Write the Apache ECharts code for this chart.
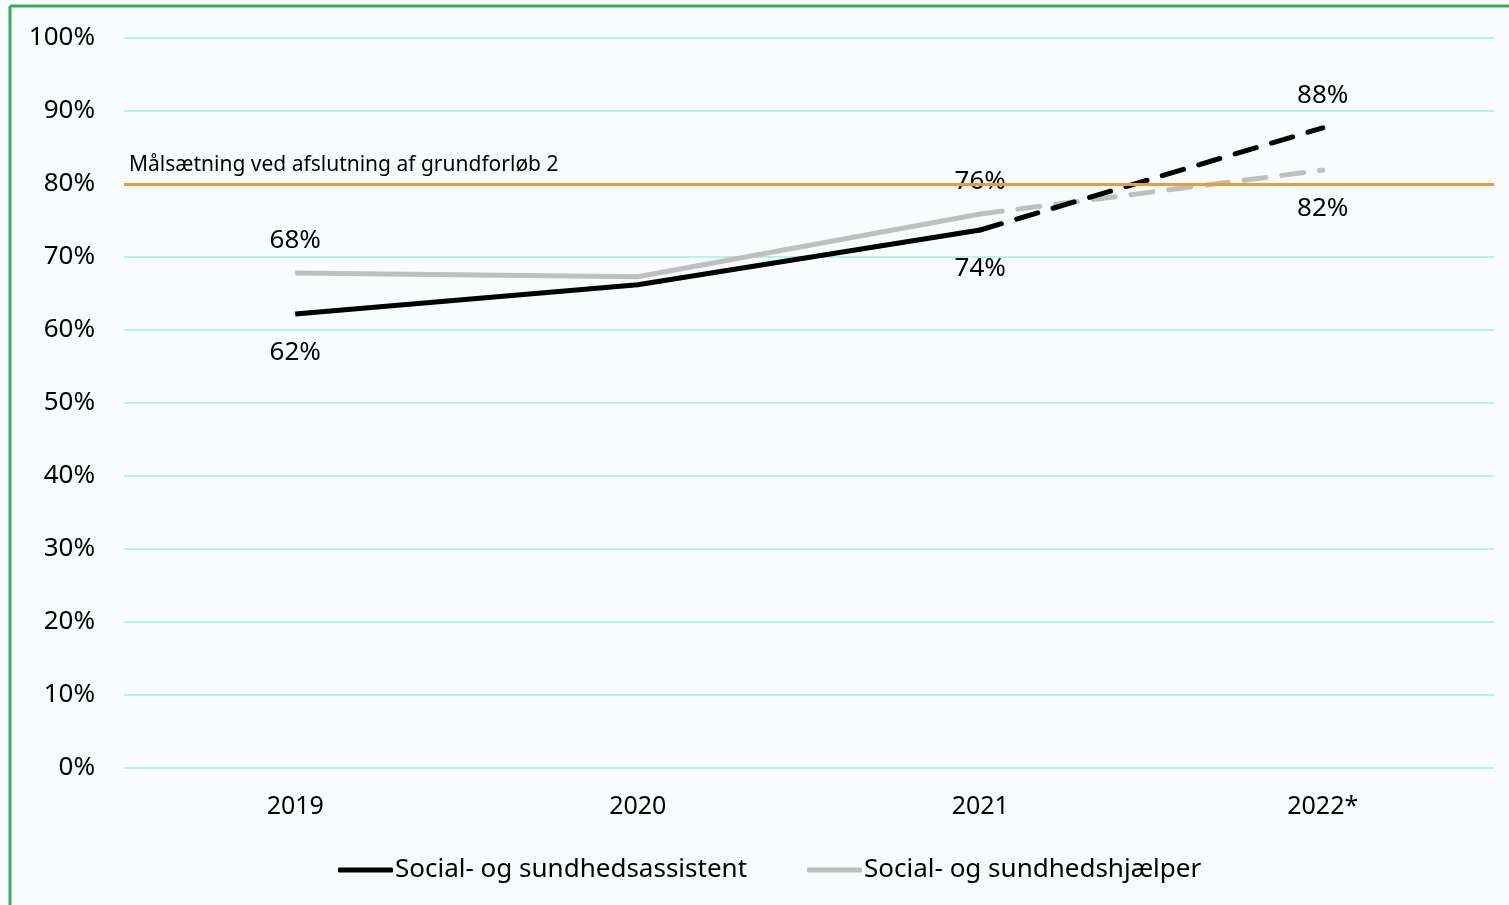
<!DOCTYPE html>
<html>
<head>
<meta charset="utf-8">
<script src="https://cdn.jsdelivr.net/npm/echarts@6/dist/echarts.min.js"></script>
<style>
html,body{margin:0;padding:0;background:#f8fcfd;}
#c{width:1509px;height:905px;}
</style>
</head>
<body>
<div id="c"></div>
<script>
const categories = ['2019', '2020', '2021', '2022*'];
const assistentSolid = [62.2, 66.2, 73.7, null];
const assistentDashed = [null, null, 73.7, 87.7];
const hjaelperSolid = [67.8, 67.3, 75.9, null];
const hjaelperDashed = [null, null, 75.9, 81.9];
const labelsAssistent = ['62%', '', '74%', '88%'];
const labelsHjaelper = ['68%', '', '76%', '82%'];
const targetValue = 80;
const targetLabel = 'Målsætning ved afslutning af grundforløb 2';
const yTicks = [0, 100, 10];

const FONT = 'Noto Sans';
const chart = echarts.init(document.getElementById('c'));

function lbl(texts, pos, showIdx) {
  return {
    show: true, position: pos, distance: pos === 'top' ? 19 : 25,
    color: '#000', fontSize: 26, fontFamily: FONT,
    formatter: p => (showIdx.includes(p.dataIndex) ? texts[p.dataIndex] : '')
  };
}

chart.setOption({
  backgroundColor: '#f8fcfd',
  animation: false,
  graphic: [
    { type: 'line', shape: { x1: 10, y1: 6, x2: 1509, y2: 6 }, style: { stroke: '#3aaa5e', lineWidth: 3 } },
    { type: 'line', shape: { x1: 10, y1: 6, x2: 10, y2: 905 }, style: { stroke: '#3aaa5e', lineWidth: 3 } }
  ],
  grid: { left: 124, right: 15, top: 38, bottom: 137 },
  legend: {
    left: 333, top: 852,
    data: ['Social- og sundhedsassistent', 'Social- og sundhedshjælper'],
    icon: 'roundRect', itemWidth: 55, itemHeight: 5, itemGap: 60,
    textStyle: { color: '#000', fontSize: 26, fontFamily: FONT, padding: [0, 0, 0, -3] }
  },
  xAxis: {
    type: 'category', data: categories, boundaryGap: true,
    axisLine: { show: false }, axisTick: { show: false },
    axisLabel: { color: '#000', fontSize: 25, fontFamily: FONT, margin: 26 }
  },
  yAxis: {
    type: 'value', min: yTicks[0], max: yTicks[1], interval: yTicks[2],
    axisLine: { show: false }, axisTick: { show: false },
    splitLine: { lineStyle: { color: '#b5f5e6', width: 2 } },
    axisLabel: { color: '#000', fontSize: 26, fontFamily: FONT, margin: 29, formatter: '{value}%' }
  },
  series: [
    {
      name: 'Social- og sundhedshjælper', type: 'line', data: hjaelperSolid,
      symbol: 'circle', symbolSize: 1, lineStyle: { color: '#bfbfbf', width: 5 }, itemStyle: { color: '#bfbfbf' },
      label: lbl(labelsHjaelper, 'top', [0, 2]), z: 3
    },
    {
      name: 'hjaelper-dashed', type: 'line', data: hjaelperDashed,
      symbol: 'circle', symbolSize: 1, lineStyle: { color: '#bfbfbf', width: 5, type: [22, 16], cap: 'round' }, itemStyle: { color: '#bfbfbf' },
      label: lbl(labelsHjaelper, 'bottom', [3]), z: 3
    },
    {
      name: 'Social- og sundhedsassistent', type: 'line', data: assistentSolid,
      symbol: 'circle', symbolSize: 1, lineStyle: { color: '#000', width: 5 }, itemStyle: { color: '#000' },
      label: lbl(labelsAssistent, 'bottom', [0, 2]), z: 4
    },
    {
      name: 'assistent-dashed', type: 'line', data: assistentDashed,
      symbol: 'circle', symbolSize: 1, lineStyle: { color: '#000', width: 5, type: [22, 16], cap: 'round' }, itemStyle: { color: '#000' },
      label: lbl(labelsAssistent, 'top', [3]), z: 4
    },
    {
      name: 'target', type: 'line', data: [], z: 5,
      markLine: {
        silent: true, symbol: 'none',
        lineStyle: { color: '#ee9a3a', width: 3, type: 'solid' },
        label: { show: true, position: 'insideStartTop', formatter: targetLabel, color: '#000', fontSize: 21, fontFamily: FONT, distance: [5, 8] },
        data: [{ yAxis: targetValue }]
      }
    }
  ]
});
</script>
</body>
</html>
